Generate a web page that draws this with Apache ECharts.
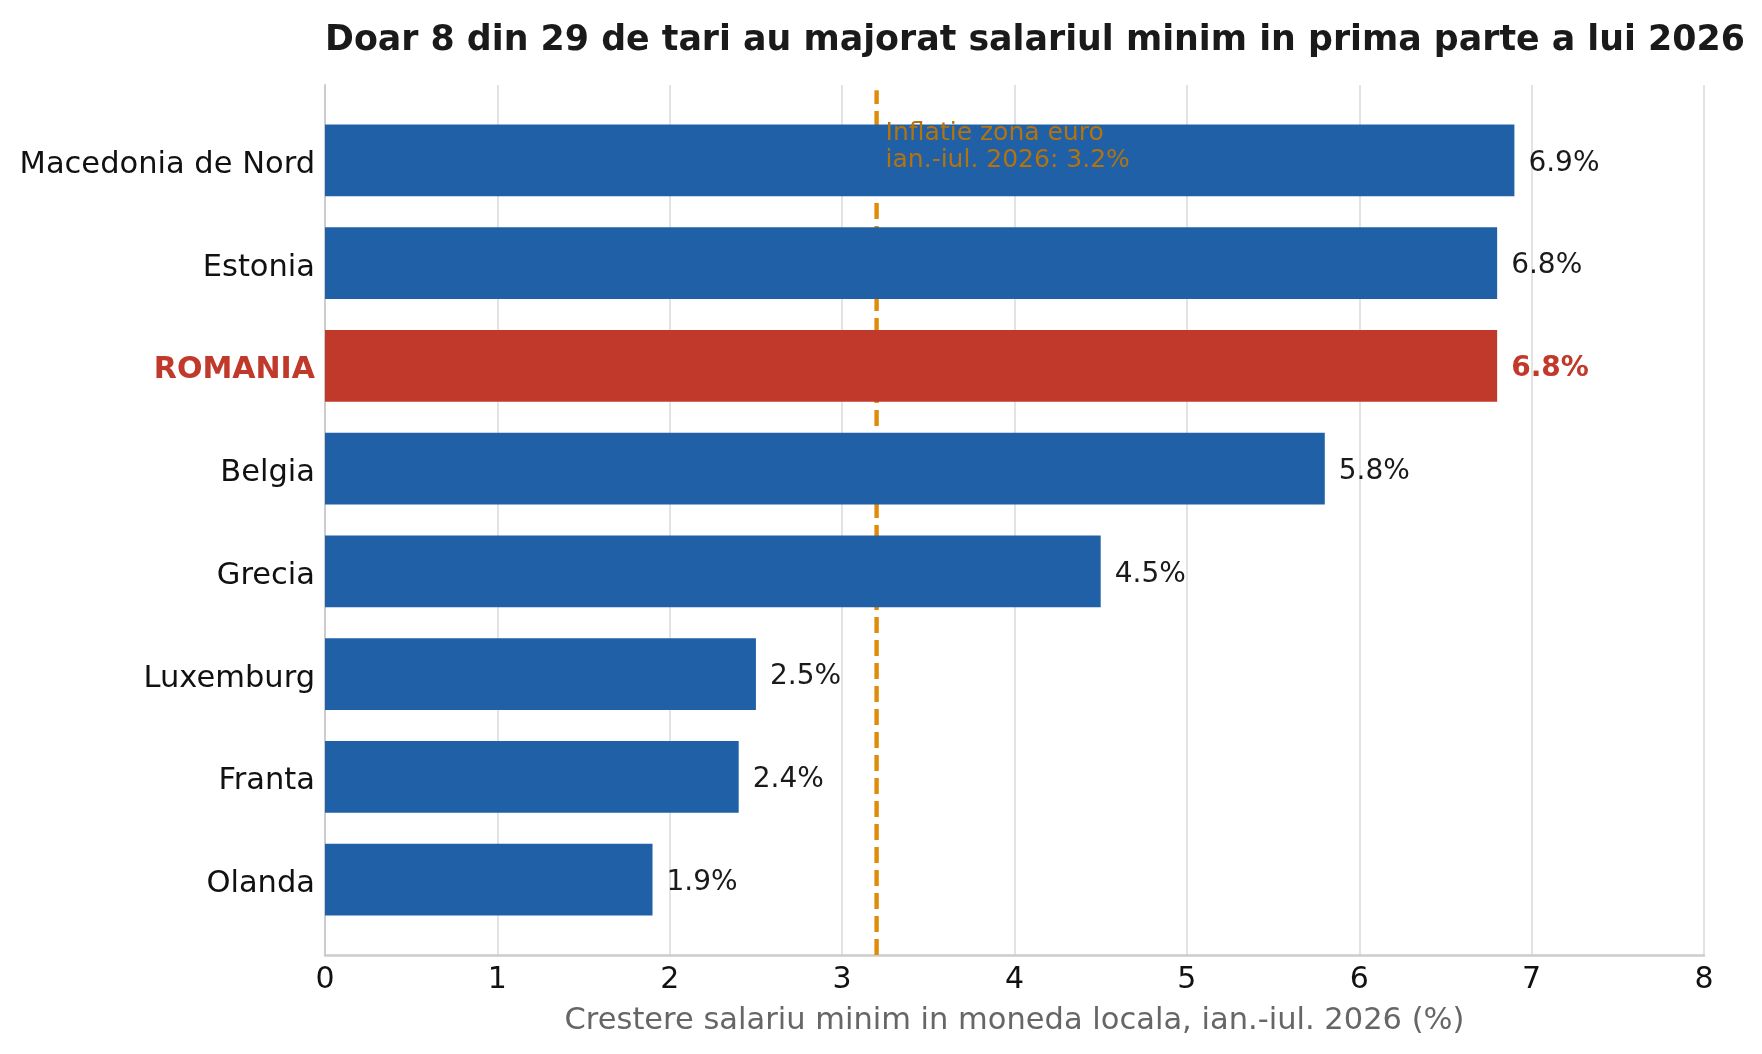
<!DOCTYPE html>
<html>
<head>
<meta charset="utf-8">
<title>Salariul minim 2026</title>
<script src="https://cdn.jsdelivr.net/npm/echarts@6/dist/echarts.min.js"></script>
<style>
  html, body { margin: 0; padding: 0; background: #fff; }
  #chart { width: 1762px; height: 1054px; }
</style>
</head>
<body>
<div id="chart"></div>
<script>
// data
const countries = ['Macedonia de Nord', 'Estonia', 'ROMANIA', 'Belgia', 'Grecia', 'Luxemburg', 'Franta', 'Olanda']
const growth = [6.9, 6.8, 6.8, 5.8, 4.5, 2.5, 2.4, 1.9]
const highlight = 'ROMANIA'
const inflation = 3.2
const xTicks = [0, 8, 1] // min, max, interval

const FONT = '"DejaVu Sans", Verdana, sans-serif'
const BLUE = '#2060A7'
const RED = '#C0392B'
const ORANGE = '#E08C0B'
const ORANGE_TEXT = '#B3730E'
const GRID_LINE = '#E3E3E3'
const SPINE = '#CCCCCC'

const chart = echarts.init(document.getElementById('chart'))

chart.setOption({
  animation: false,
  textStyle: { fontFamily: FONT },
  title: {
    text: 'Doar 8 din 29 de tari au majorat salariul minim in prima parte a lui 2026',
    left: 320,
    top: 18,
    textStyle: { fontSize: 34.8, fontWeight: 'bold', color: '#1A1A1A', fontFamily: FONT }
  },
  grid: [
    // outer frame: spines, gridlines, x ticks
    { left: 325, right: 58, top: 85, bottom: 99 },
    // inner band area for the bars
    { left: 325, right: 58, top: 109, bottom: 123 }
  ],
  xAxis: [
    {
      gridIndex: 0,
      type: 'value',
      min: xTicks[0],
      max: xTicks[1],
      interval: xTicks[2],
      axisLine: { show: true, lineStyle: { color: SPINE, width: 2.5 } },
      axisTick: { show: false },
      axisLabel: { color: '#111', fontSize: 30, margin: 10, fontFamily: FONT },
      splitLine: { show: true, lineStyle: { color: GRID_LINE, width: 2 } },
      name: 'Crestere salariu minim in moneda locala, ian.-iul. 2026 (%)',
      nameLocation: 'middle',
      nameGap: 51,
      nameTextStyle: { color: '#666', fontSize: 30.5, fontFamily: FONT }
    },
    { gridIndex: 1, type: 'value', min: xTicks[0], max: xTicks[1], show: false }
  ],
  yAxis: [
    {
      gridIndex: 0,
      type: 'value',
      min: 0,
      max: 1,
      axisLine: { show: true, lineStyle: { color: SPINE, width: 2 } },
      axisTick: { show: false },
      axisLabel: { show: false },
      splitLine: { show: false }
    },
    {
      gridIndex: 1,
      type: 'category',
      inverse: true,
      data: countries,
      axisLine: { show: false },
      axisTick: { show: false },
      splitLine: { show: false },
      axisLabel: {
        margin: 10,
        fontSize: 30.5,
        color: '#111',
        fontFamily: FONT,
        padding: [9, 0, 0, 0],
        formatter: v => v === highlight ? '{hl|' + v + '}' : v,
        rich: {
          hl: { color: RED, fontWeight: 'bold', fontSize: 30, fontFamily: FONT }
        }
      }
    }
  ],
  series: [
    {
      // euro area inflation reference line
      type: 'line',
      xAxisIndex: 0,
      yAxisIndex: 0,
      z: 1,
      silent: true,
      symbol: 'none',
      data: [[inflation, 0], [inflation, 0.994]],
      lineStyle: { color: ORANGE, width: 4.4, type: [16, 7] }
    },
    {
      type: 'bar',
      xAxisIndex: 1,
      yAxisIndex: 1,
      z: 3,
      barWidth: '70%',
      data: growth.map((v, i) => {
        const hot = countries[i] === highlight
        return {
          value: v,
          itemStyle: { color: hot ? RED : BLUE },
          label: hot ? { color: RED, fontWeight: 'bold' } : {}
        }
      }),
      label: {
        show: true,
        position: 'right',
        distance: 14,
        offset: [0, 3],
        fontSize: 28,
        color: '#1A1A1A',
        fontFamily: FONT,
        formatter: p => p.value.toFixed(1) + '%'
      }
    }
  ]
})

// annotation next to the inflation line, placed from its data value
const px = chart.convertToPixel({ gridIndex: 0 }, [inflation, 1])
chart.setOption({
  graphic: [{
    type: 'text',
    z: 100,
    x: px[0] + 9,
    y: 120,
    style: {
      text: 'Inflatie zona euro\nian.-iul. 2026: ' + inflation.toFixed(1) + '%',
      fill: ORANGE_TEXT,
      font: '25px "DejaVu Sans"',
      lineHeight: 27
    }
  }]
})
</script>
</body>
</html>
